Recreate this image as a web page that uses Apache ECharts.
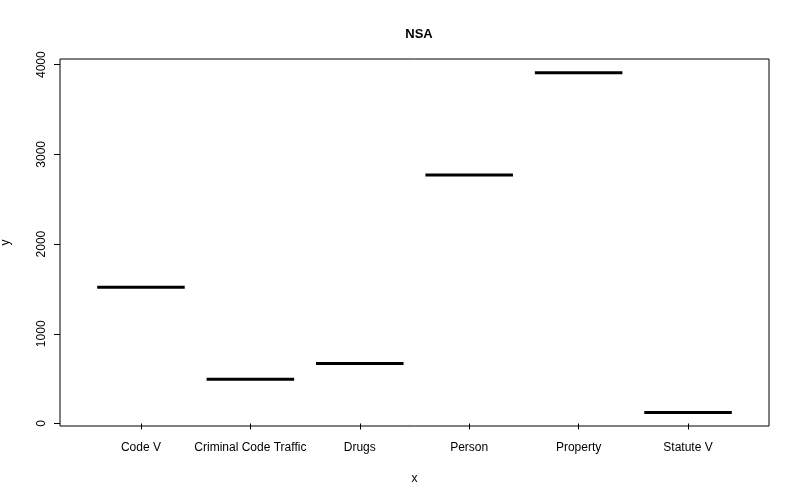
<!DOCTYPE html>
<html>
<head>
<meta charset="utf-8">
<script src="https://cdn.jsdelivr.net/npm/echarts@6/dist/echarts.min.js"></script>
<style>html,body{margin:0;background:#fff}#main{width:800px;height:500px}</style>
</head>
<body>
<div id="main"></div>
<script>
var categories = ['Code V', 'Criminal Code Traffic', 'Drugs', 'Person', 'Property', 'Statute V'];
var values = [1520, 492, 670, 2771, 3911, 123];
var yTicks = [0, 1000, 2000, 3000, 4000];

var chart = echarts.init(document.getElementById('main'));

var lineData = [];
for (var i = 0; i < values.length; i++) {
    lineData.push([i + 1, values[i]]);
}

option = {
    animation: false,
    backgroundColor: '#fff',
    textStyle: { fontFamily: 'Liberation Sans, Arial, sans-serif' },
    title: {
        text: 'NSA',
        left: 414, top: 23, textAlign: 'center',
        textStyle: { fontSize: 13, fontWeight: 'bold', color: '#000' }
    },
    grid: {
        left: 60, right: 31, top: 59, bottom: 74,
        containLabel: false, outerBoundsMode: 'none',
        show: true, borderColor: '#000', borderWidth: 1
    },
    xAxis: {
        type: 'value', min: 0.26, max: 6.74,
        name: 'x', nameLocation: 'middle', nameGap: 47,
        nameTextStyle: { fontSize: 12, color: '#000' },
        axisLine: { show: false },
        splitLine: { show: false },
        axisTick: { show: true, length: 6, lineStyle: { color: '#000' }, customValues: [1, 2, 3, 4, 5, 6] },
        axisLabel: {
            color: '#000', fontSize: 12, margin: 16,
            customValues: [1, 2, 3, 4, 5, 6],
            formatter: function (v) { return categories[Math.round(v) - 1] || ''; }
        }
    },
    yAxis: {
        type: 'value', min: -28, max: 4063,
        name: 'y', nameLocation: 'middle', nameGap: 48, nameRotate: 90,
        nameTextStyle: { fontSize: 12, color: '#000' },
        axisLine: { show: false },
        splitLine: { show: false },
        axisTick: { show: true, length: 6, lineStyle: { color: '#000' }, customValues: yTicks },
        axisLabel: {
            color: '#000', fontSize: 12, rotate: 90, margin: 12, customValues: yTicks,
            formatter: function (v) { return String(v); }
        }
    },
    series: [{
        type: 'custom',
        data: lineData,
        renderItem: function (params, api) {
            var x = api.value(0), y = api.value(1);
            var p1 = api.coord([x - 0.4, y]);
            var p2 = api.coord([x + 0.4, y]);
            return {
                type: 'line',
                shape: { x1: p1[0], y1: p1[1], x2: p2[0], y2: p2[1] },
                style: { stroke: '#000', lineWidth: 3 }
            };
        }
    }]
};

chart.setOption(option);
</script>
</body>
</html>
